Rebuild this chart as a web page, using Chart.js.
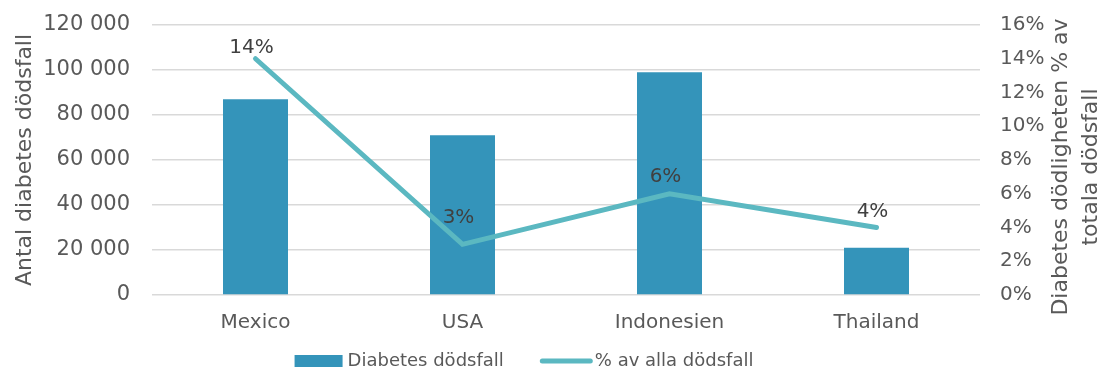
<!DOCTYPE html>
<html>
<head>
<meta charset="utf-8">
<script src="https://cdn.jsdelivr.net/npm/chart.js@4/dist/chart.umd.min.js"></script>
<style>
  html, body { margin: 0; padding: 0; background: #ffffff; }
  #wrap { width: 1101px; height: 369px; }
</style>
</head>
<body>
<div id="wrap"><canvas id="chart"></canvas></div>
<script>
// Diabetes deaths per country, and their share of all deaths
const categories = ['Mexico', 'USA', 'Indonesien', 'Thailand'];
const diabetesDeaths = [87000, 71000, 99000, 21000];
const shareOfAllDeaths = [0.14, 0.03, 0.06, 0.04];

const seriesNames = ['Diabetes dödsfall', '% av alla dödsfall'];
const leftAxisTitle = 'Antal diabetes dödsfall';
const rightAxisTitle = ['Diabetes dödligheten % av', 'totala dödsfall'];

const FONT = '"DejaVu Sans", sans-serif';
const TEXT = '#595959';
const BAR_COLOR = '#3494ba';
const LINE_COLOR = '#5bb8c1';

const withSpaces = v => String(v).replace(/\B(?=(\d{3})+(?!\d))/g, ' ');
const asPercent = v => Math.round(v * 100) + '%';

// Percent labels above each point of the line series
const pointLabels = {
  id: 'pointLabels',
  afterDatasetsDraw(chart, args, opts) {
    const meta = chart.getDatasetMeta(opts.datasetIndex);
    const data = chart.data.datasets[opts.datasetIndex].data;
    const ctx = chart.ctx;
    ctx.save();
    ctx.font = '20px ' + FONT;
    ctx.fillStyle = '#404040';
    ctx.textAlign = 'center';
    ctx.textBaseline = 'middle';
    meta.data.forEach((pt, i) => {
      ctx.fillText(asPercent(data[i]), pt.x - 4, pt.y - opts.lift[i]);
    });
    ctx.restore();
  }
};

// Axis titles, both reading bottom-to-top
const axisTitles = {
  id: 'axisTitles',
  afterDraw(chart) {
    const ctx = chart.ctx;
    const area = chart.chartArea;
    const midY = (area.top + area.bottom) / 2;
    ctx.save();
    ctx.font = '22px ' + FONT;
    ctx.fillStyle = TEXT;
    ctx.textAlign = 'center';
    ctx.textBaseline = 'middle';

    ctx.save();
    ctx.translate(25, midY);
    ctx.rotate(-Math.PI / 2);
    ctx.fillText(leftAxisTitle, 0, 0);
    ctx.restore();

    ctx.save();
    ctx.translate(1061, midY + 7);
    ctx.rotate(-Math.PI / 2);
    rightAxisTitle.forEach((line, i) => ctx.fillText(line, 0, i * 30));
    ctx.restore();
    ctx.restore();
  }
};

// Legend row under the category labels
const bottomLegend = {
  id: 'bottomLegend',
  afterDraw(chart) {
    const ctx = chart.ctx;
    const y = 361;
    ctx.save();
    ctx.font = '18px ' + FONT;
    ctx.textBaseline = 'middle';
    ctx.textAlign = 'left';
    const w0 = ctx.measureText(seriesNames[0]).width;
    const w1 = ctx.measureText(seriesNames[1]).width;
    const total = 48 + 5 + w0 + 36 + 53 + 2 + w1;
    let x = 524 - total / 2;

    ctx.fillStyle = BAR_COLOR;
    ctx.fillRect(x, y - 6, 48, 12);
    x += 53;
    ctx.fillStyle = TEXT;
    ctx.fillText(seriesNames[0], x, y);
    x += w0 + 36;

    ctx.strokeStyle = LINE_COLOR;
    ctx.lineWidth = 5;
    ctx.lineCap = 'round';
    ctx.beginPath();
    ctx.moveTo(x + 2.5, y);
    ctx.lineTo(x + 50.5, y);
    ctx.stroke();
    x += 55;
    ctx.fillText(seriesNames[1], x, y);
    ctx.restore();
  }
};

new Chart(document.getElementById('chart'), {
  type: 'bar',
  data: {
    labels: categories,
    datasets: [
      {
        type: 'line',
        label: seriesNames[1],
        data: shareOfAllDeaths,
        yAxisID: 'y1',
        borderColor: LINE_COLOR,
        backgroundColor: LINE_COLOR,
        borderWidth: 5,
        borderCapStyle: 'round',
        borderJoinStyle: 'miter',
        pointRadius: 0,
        pointHoverRadius: 0,
        tension: 0,
        order: 0
      },
      {
        label: seriesNames[0],
        data: diabetesDeaths,
        yAxisID: 'y',
        backgroundColor: BAR_COLOR,
        borderWidth: 0,
        barPercentage: 0.314,
        categoryPercentage: 1,
        order: 1
      }
    ]
  },
  options: {
    responsive: true,
    maintainAspectRatio: false,
    animation: false,
    layout: { padding: { top: 25, bottom: 40, left: 0, right: 0 } },
    plugins: {
      legend: { display: false },
      tooltip: { enabled: false },
      pointLabels: { datasetIndex: 0, lift: [11, 27, 17, 16] }
    },
    scales: {
      x: {
        grid: { display: false, drawTicks: false },
        border: { display: false },
        ticks: { font: { family: FONT, size: 20 }, color: TEXT, padding: 16 },
        afterFit(s) { s.height = 34; s.paddingLeft = 0; s.paddingRight = 0; }
      },
      y: {
        position: 'left',
        min: 0,
        max: 120000,
        grid: { color: '#d9d9d9', lineWidth: 1.5, drawTicks: false },
        border: { display: false },
        ticks: {
          stepSize: 20000,
          font: { family: FONT, size: 21 },
          color: TEXT,
          padding: 22,
          callback: v => withSpaces(v)
        },
        afterFit(s) { s.width = 152; s.paddingTop = 0; s.paddingBottom = 0; }
      },
      y1: {
        position: 'right',
        min: 0,
        max: 0.16,
        grid: { display: false, drawTicks: false },
        border: { display: false },
        ticks: {
          stepSize: 0.02,
          font: { family: FONT, size: 20 },
          color: TEXT,
          padding: 20,
          callback: v => asPercent(v)
        },
        afterFit(s) { s.width = 121; s.paddingTop = 0; s.paddingBottom = 0; }
      }
    }
  },
  plugins: [pointLabels, axisTitles, bottomLegend]
});
</script>
</body>
</html>
